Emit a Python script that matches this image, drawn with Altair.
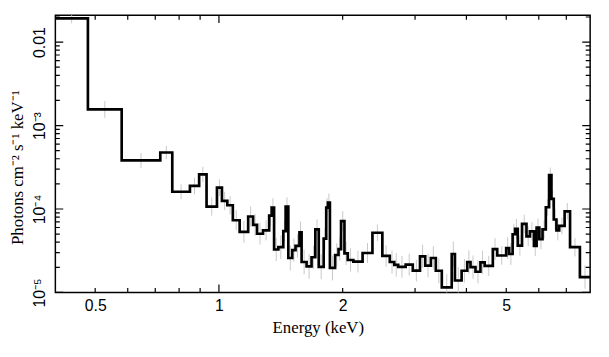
import altair as alt
import pandas as pd
import numpy as np

edges = [0.40, 0.48, 0.58, 0.72, 0.77, 0.85, 0.895, 0.933, 0.989, 1.017,
         1.048, 1.081, 1.123, 1.178, 1.211, 1.238, 1.28, 1.325, 1.344, 1.362,
         1.395, 1.434, 1.453, 1.475, 1.508, 1.536, 1.57, 1.589, 1.634, 1.68,
         1.716, 1.749, 1.798, 1.824, 1.841, 1.862, 1.917, 1.954, 1.982, 2.02,
         2.058, 2.123, 2.236, 2.363, 2.498, 2.604, 2.67, 2.73, 2.846, 2.962,
         3.084, 3.176, 3.278, 3.37, 3.485, 3.684, 3.751, 3.894, 4.019, 4.093,
         4.209, 4.327, 4.431, 4.638, 4.754, 4.998, 5.082, 5.182, 5.254, 5.333,
         5.462, 5.6, 5.71, 5.839, 5.927, 6.019, 6.127, 6.241, 6.356, 6.441,
         6.525, 6.623, 6.726, 6.934, 7.148, 7.554, 8.0]

flux = [1.92e-2, 1.56e-3, 3.83e-4, 4.75e-4, 1.61e-4, 1.89e-4, 2.60e-4, 1.07e-4, 1.80e-4, 1.25e-4,
        1.11e-4, 7.34e-5, 5.32e-5, 8.13e-5, 6.45e-5, 5.05e-5, 5.55e-5, 8.34e-5, 1.04e-4, 3.27e-5,
        3.49e-5, 5.44e-5, 1.07e-4, 2.59e-5, 3.22e-5, 3.62e-5, 5.26e-5, 2.32e-5, 2.05e-5, 2.64e-5,
        5.70e-5, 2.03e-5, 4.42e-5, 1.04e-4, 1.19e-4, 1.97e-5, 2.81e-5, 3.31e-5, 7.15e-5, 2.94e-5,
        2.45e-5, 2.34e-5, 2.97e-5, 5.19e-5, 2.74e-5, 2.32e-5, 2.14e-5, 2.03e-5, 2.16e-5, 1.83e-5,
        2.71e-5, 2.10e-5, 2.59e-5, 1.82e-5, 1.15e-5, 2.89e-5, 1.39e-5, 1.82e-5, 2.32e-5, 2.01e-5,
        1.77e-5, 2.29e-5, 2.08e-5, 3.31e-5, 2.77e-5, 3.40e-5, 2.89e-5, 4.98e-5, 5.78e-5, 3.64e-5,
        6.62e-5, 4.71e-5, 5.40e-5, 3.62e-5, 5.97e-5, 4.35e-5, 5.70e-5, 1.05e-4, 2.55e-4, 1.32e-4,
        7.48e-5, 5.55e-5, 6.27e-5, 9.37e-5, 3.49e-5, 1.53e-5]

err_dex = [0.06, 0.10, 0.09, 0.08,
           0.09, 0.10, 0.09, 0.11, 0.10, 0.11, 0.11,
           0.12, 0.13, 0.12, 0.13, 0.13, 0.12, 0.12, 0.11,
           0.14, 0.14, 0.13, 0.11, 0.15, 0.14, 0.14, 0.13, 0.15, 0.15, 0.14, 0.12, 0.15, 0.13, 0.11, 0.11,
           0.15, 0.14, 0.14, 0.12, 0.14, 0.14, 0.13, 0.12, 0.10, 0.13, 0.14, 0.14, 0.13, 0.13, 0.13,
           0.14, 0.14, 0.14, 0.15, 0.16, 0.15, 0.16, 0.14, 0.14, 0.14, 0.14, 0.14, 0.12, 0.13, 0.11,
           0.13, 0.13, 0.12, 0.12, 0.12, 0.11, 0.12, 0.11, 0.12, 0.11, 0.12, 0.11, 0.10, 0.09, 0.10,
           0.12, 0.12, 0.10, 0.10, 0.11, 0.14]

x_labels = [0.5, 1, 2, 5]
x_major = [1]
x_minor = [0.5, 0.6, 0.7, 0.8, 0.9, 2, 3, 4, 5, 6, 7]
y_major = [1e-5, 1e-4, 1e-3, 1e-2]
y_minor = [m * d for d in [1e-5, 1e-4, 1e-3] for m in range(2, 10)] + [2e-2]

X_MIN, X_MAX = 0.4, 8.0
Y_MIN, Y_MAX = 1e-5, 0.021

lo = np.array(edges[:-1])
hi = np.array(edges[1:])
f = np.array(flux)
e = np.array(err_dex)
bars = pd.DataFrame({"xc": np.sqrt(lo * hi), "lo": f / 10 ** e, "hi": f * 10 ** e})
step = pd.DataFrame({"E": edges, "F": flux + [flux[-1]]})

xs = alt.Scale(type="log", domain=[X_MIN, X_MAX], nice=False)
ys = alt.Scale(type="log", domain=[Y_MIN, Y_MAX], nice=False)

SANS = "Liberation Sans"
SERIF = "Liberation Serif"

ylabel_expr = ("datum.value > 0.005 ? '0.01' : datum.value > 0.0005 ? '10⁻³' : "
               "datum.value > 0.00005 ? '10⁻⁴' : '10⁻⁵'")

x_axis = alt.Axis(
    orient="bottom", values=x_labels, ticks=False, domain=False, grid=False,
    format="~g", labelFont=SANS, labelFontSize=16, labelColor="black",
    labelPadding=5, labelFlush=False,
    title="Energy (keV)", titleFont=SERIF, titleFontSize=17, titleFontWeight="normal",
    titleColor="black", titleX=266, titleY=41, titleBaseline="alphabetic")

y_axis = alt.Axis(
    orient="left", values=y_major, ticks=False, domain=False, grid=False,
    labelExpr=ylabel_expr, labelAngle=270, labelAlign="center", labelBaseline="bottom",
    labelFont=SANS, labelFontSize=16, labelColor="black", labelPadding=8, labelFlush=False,
    title="Photons cm⁻² s⁻¹ keV⁻¹", titleFont=SERIF, titleFontSize=17,
    titleFontWeight="normal", titleColor="black", titleAngle=270,
    titleX=-38, titleY=154, titleBaseline="middle")

err_layer = alt.Chart(bars).mark_rule(color="#c8c8c8", strokeWidth=1, clip=True).encode(
    x=alt.X("xc:Q", scale=xs, axis=x_axis),
    y=alt.Y("lo:Q", scale=ys, axis=y_axis),
    y2="hi:Q",
)

line_layer = alt.Chart(step).mark_line(interpolate="step-after", color="black",
                                       strokeWidth=2.7, clip=True).encode(
    x=alt.X("E:Q", scale=xs, axis=x_axis),
    y=alt.Y("F:Q", scale=ys, axis=y_axis),
)


# Inward axis ticks: ticks centred on the frame edge, the outer half clipped away
def x_ticks(values, length, edge):
    return alt.Chart(pd.DataFrame({"v": values})).mark_tick(
        orient="vertical", size=2 * length, thickness=1.2, color="black", opacity=1, clip=True
    ).encode(
        x=alt.X("v:Q", scale=xs, axis=x_axis),
        y=alt.YDatum(edge, scale=ys, axis=y_axis),
    )


def y_ticks(values, length, edge):
    return alt.Chart(pd.DataFrame({"v": values})).mark_tick(
        orient="horizontal", size=2 * length, thickness=1.2, color="black", opacity=1, clip=True
    ).encode(
        y=alt.Y("v:Q", scale=ys, axis=y_axis),
        x=alt.XDatum(edge, scale=xs, axis=x_axis),
    )


tick_layers = [
    x_ticks(x_major, 8, Y_MIN), x_ticks(x_minor, 4.5, Y_MIN),
    x_ticks(x_major, 8, Y_MAX), x_ticks(x_minor, 4.5, Y_MAX),
    y_ticks(y_major, 8, X_MIN), y_ticks(y_minor, 4.5, X_MIN),
    y_ticks(y_major, 8, X_MAX), y_ticks(y_minor, 4.5, X_MAX),
]

chart = alt.layer(err_layer, line_layer, *tick_layers).properties(
    width=542, height=281,
    autosize=alt.AutoSizeParams(type="none"),
    padding={"left": 48, "top": 5, "right": 11, "bottom": 55},
    background="white",
).configure_view(stroke="black", strokeWidth=1.5)

chart.save("out.html", embed_options={"renderer": "svg", "actions": False})
